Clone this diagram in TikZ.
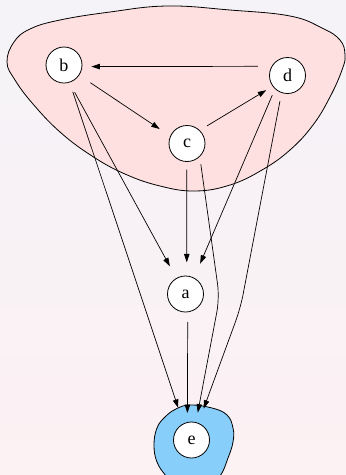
\documentclass[tikz,border=0pt]{standalone}
\usepackage{fontspec}
\setmainfont{Liberation Serif}
\usetikzlibrary{arrows.meta}
\definecolor{bgtop}{RGB}{245,243,248}
\definecolor{bgbot}{RGB}{252,241,243}
\definecolor{blobpink}{RGB}{255,224,224}
\definecolor{blobblue}{RGB}{135,206,250}
\tikzset{
  vertex/.style={circle, draw=black, fill=white, line width=0.8pt, minimum size=36pt, inner sep=0pt, font=\fontsize{18}{18}\selectfont},
  edge/.style={draw=black, line width=0.7pt, -{Triangle[length=8.5pt,width=5.5pt]}},
  blob/.style={draw=black, line width=0.8pt}
}
\begin{document}
\begin{tikzpicture}[x=1pt,y=-1pt]
\useasboundingbox (0,0) rectangle (346,475);
\clip (0,0) rectangle (346,475);
\fill[top color=bgtop, bottom color=bgbot] (0,0) rectangle (346,475);
% pink region
\draw[blob, fill=blobpink] plot[smooth cycle, tension=0.7] coordinates {
 (7,62) (14,42) (30,29) (60,20) (110,12) (167,6) (230,10) (290,16) (322,28) (340,40) (345,55) (342,70) (330,97) (313,125) (290,150) (262,170) (230,185) (195,191) (160,186) (125,174) (92,156) (60,132) (33,104) (15,80)};
% blue region
\draw[blob, fill=blobblue] plot[smooth cycle, tension=0.7] coordinates {
 (190,405) (212,408) (227,415) (233,428) (233,442) (228,458) (220,476) (205,490) (178,490) (166,476) (157,462) (154,445) (157,428) (165,417) (176,409)};
% nodes
\node[vertex] (b) at (64,65) {b};
\node[vertex] (d) at (287.5,75.5) {d};
\node[vertex] (c) at (187,143.5) {c};
\node[vertex] (a) at (185.5,294) {a};
\node[vertex] (e) at (191.5,440) {e};
\coordinate (ce) at (219.5,298);
\coordinate (de) at (240.5,308);
% edges
\draw[edge, shorten <=13.8pt, shorten >=9.1pt] (d.150.7) -- (b.-5.4);
\draw[edge, shorten <=13.4pt, shorten >=12.6pt] (b.-34.6) -- (c.156.4);
\draw[edge, shorten <=8.5pt, shorten >=7.4pt] (c.46.6) -- (d.216.4);
\draw[edge, shorten <=11pt, shorten >=13.4pt] (b.-73.3) -- (a.120.3);
\draw[edge, shorten <=9.8pt, shorten >=16.4pt] (b.-72.6) -- (e.116.4);
\draw[edge, shorten <=7.8pt, shorten >=13.3pt] (c.-91) -- (a.86.2);
\draw[edge, shorten <=6.8pt, shorten >=15.3pt] (d.227.6) -- (a.62);
\draw[edge, shorten <=9.7pt, shorten >=9pt] (a.-83) -- (e.103);
\draw[edge, rounded corners=14pt, shorten <=7.6pt, shorten >=9.7pt] (c.-46) -- (ce) -- (e.76.5);
\draw[edge, rounded corners=14pt, shorten <=8.4pt, shorten >=15.2pt] (d.-109) -- (de) -- (e.68);
\end{tikzpicture}
\end{document}
